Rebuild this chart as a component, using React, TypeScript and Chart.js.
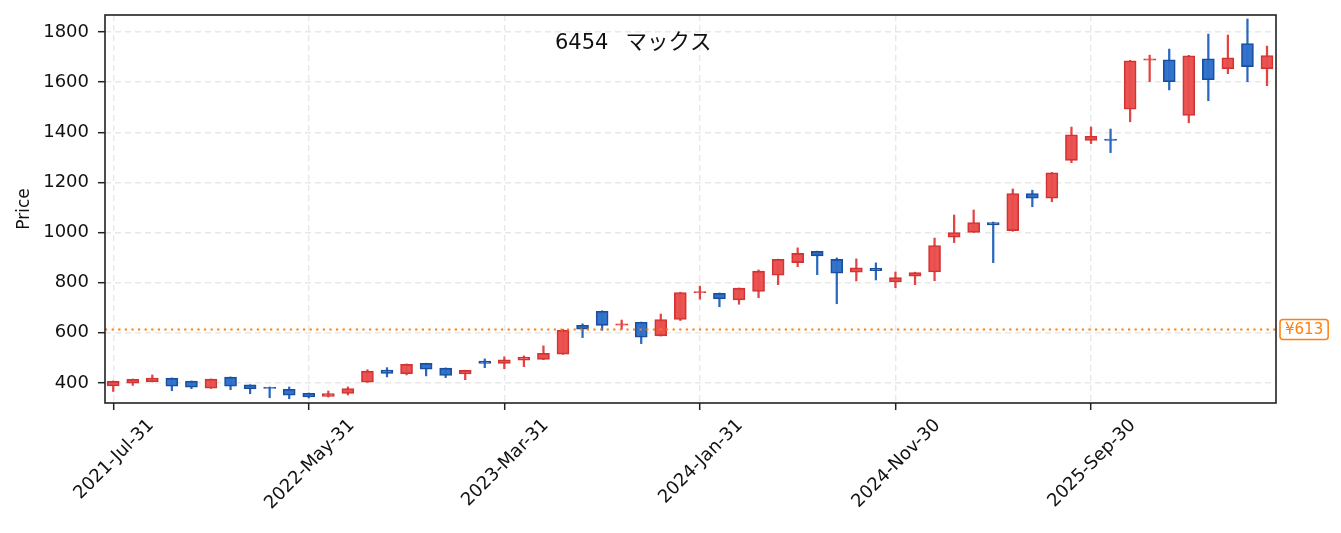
import React, { useEffect, useRef } from 'react';
import { Chart, registerables } from 'chart.js';

Chart.register(...registerables);

const TITLE_CODE = '6454';
const TITLE_NAME = 'マックス';
const Y_LABEL = 'Price';
const REF_PRICE = 613;

const dates = [
  '2021-Jul-31', '2021-Aug-31', '2021-Sep-30', '2021-Oct-31', '2021-Nov-30', '2021-Dec-31',
  '2022-Jan-31', '2022-Feb-28', '2022-Mar-31', '2022-Apr-30', '2022-May-31', '2022-Jun-30',
  '2022-Jul-31', '2022-Aug-31', '2022-Sep-30', '2022-Oct-31', '2022-Nov-30', '2022-Dec-31',
  '2023-Jan-31', '2023-Feb-28', '2023-Mar-31', '2023-Apr-30', '2023-May-31', '2023-Jun-30',
  '2023-Jul-31', '2023-Aug-31', '2023-Sep-30', '2023-Oct-31', '2023-Nov-30', '2023-Dec-31',
  '2024-Jan-31', '2024-Feb-29', '2024-Mar-31', '2024-Apr-30', '2024-May-31', '2024-Jun-30',
  '2024-Jul-31', '2024-Aug-31', '2024-Sep-30', '2024-Oct-31', '2024-Nov-30', '2024-Dec-31',
  '2025-Jan-31', '2025-Feb-28', '2025-Mar-31', '2025-Apr-30', '2025-May-31', '2025-Jun-30',
  '2025-Jul-31', '2025-Aug-31', '2025-Sep-30', '2025-Oct-31', '2025-Nov-30', '2025-Dec-31',
  '2026-Jan-31', '2026-Feb-28', '2026-Mar-31', '2026-Apr-30', '2026-May-31', '2026-Jun-30',
];

const opens = [
  388, 399, 405, 419, 407, 379, 423, 392, 383, 375,
  359, 346, 358, 403, 451, 437, 478, 459, 436, 487,
  478, 491, 494, 515, 630, 686, 631, 642, 588, 653,
  760, 758, 731, 765, 830, 880, 925, 893, 842, 857,
  803, 826, 843, 982, 1001, 1040, 1008, 1156, 1137, 1288,
  1368, 1373, 1492, 1688, 1689, 1467, 1693, 1653, 1754, 1653,
];
const highs = [
  408, 416, 432, 420, 408, 416, 424, 393, 384, 384,
  360, 368, 384, 453, 461, 476, 479, 460, 451, 496,
  504, 508, 548, 614, 636, 688, 651, 643, 675, 762,
  786, 759, 779, 851, 894, 939, 926, 899, 895, 879,
  843, 842, 978, 1070, 1090, 1042, 1174, 1169, 1240, 1421,
  1421, 1413, 1687, 1708, 1732, 1707, 1792, 1788, 1852, 1744,
];
const lows = [
  366, 390, 404, 369, 377, 378, 373, 357, 341, 337,
  340, 344, 352, 402, 424, 432, 428, 421, 413, 461,
  457, 465, 493, 514, 581, 610, 614, 557, 587, 649,
  734, 704, 714, 740, 792, 864, 832, 716, 807, 811,
  780, 792, 808, 960, 1000, 880, 1005, 1103, 1123, 1279,
  1355, 1319, 1442, 1602, 1569, 1438, 1526, 1634, 1602, 1586,
];
const closes = [
  406, 414, 419, 387, 383, 415, 387, 376, 378, 351,
  344, 358, 378, 447, 438, 474, 455, 430, 450, 478,
  492, 503, 518, 610, 615, 630, 636, 583, 653, 761,
  765, 735, 778, 846, 893, 917, 907, 838, 859, 848,
  820, 840, 948, 1000, 1040, 1030, 1156, 1137, 1238, 1390,
  1384, 1368, 1685, 1693, 1602, 1705, 1610, 1697, 1662, 1706,
];

const yTicks = [400, 600, 800, 1000, 1200, 1400, 1600, 1800];
const xTickIndex = [0, 10, 20, 30, 40, 50];

const FONT = '"DejaVu Sans", "Noto Sans CJK JP", sans-serif';
const CJK = '"Noto Sans CJK JP", sans-serif';

export default function App() {
  const ref = useRef<HTMLCanvasElement | null>(null);

  useEffect(() => {
    if (!ref.current) return;
    const up = closes.map((c, i) => c >= opens[i]);
    const bodyFill = up.map((u) => (u ? 'rgba(233,78,76,0.97)' : 'rgba(46,112,202,0.97)'));
    const bodyEdge = up.map((u) => (u ? '#d23434' : '#1a4f9e'));
    const wickColor = up.map((u) => (u ? '#e24444' : '#2a68c0'));

    const decor = {
      id: 'decor',
      afterDatasetsDraw(chart: any) {
        const { ctx, chartArea: a, scales } = chart;
        const yp = scales.y.getPixelForValue(REF_PRICE);
        ctx.save();
        ctx.strokeStyle = '#ff7f0e';
        ctx.lineWidth = 2;
        ctx.setLineDash([2.2, 4.4]);
        ctx.beginPath();
        ctx.moveTo(a.left, yp);
        ctx.lineTo(a.right, yp);
        ctx.stroke();
        ctx.restore();
      },
      afterDraw(chart: any) {
        const { ctx, chartArea: a, scales } = chart;
        ctx.save();
        // frame
        ctx.strokeStyle = '#222';
        ctx.lineWidth = 1.6;
        ctx.setLineDash([]);
        ctx.strokeRect(a.left, a.top, a.right - a.left, a.bottom - a.top);

        // title
        ctx.fillStyle = '#111';
        ctx.textAlign = 'left';
        ctx.textBaseline = 'alphabetic';
        ctx.font = `21px ${FONT}`;
        ctx.fillText(TITLE_CODE, 555, 48.5);
        ctx.font = `21.5px ${CJK}`;
        ctx.fillText(TITLE_NAME, 625.5, 49);

        // y label
        ctx.save();
        ctx.translate(25, (a.top + a.bottom) / 2);
        ctx.rotate(-Math.PI / 2);
        ctx.font = `17px ${FONT}`;
        ctx.textAlign = 'center';
        ctx.textBaseline = 'middle';
        ctx.fillText(Y_LABEL, 0, 0);
        ctx.restore();

        // x labels
        ctx.font = `18px ${FONT}`;
        ctx.fillStyle = '#111';
        xTickIndex.forEach((idx) => {
          const px = scales.x.getPixelForValue(idx);
          const txt = dates[idx];
          const L = ctx.measureText(txt).width;
          const h = 13;
          const half = ((L + h) * Math.SQRT1_2) / 2;
          ctx.save();
          ctx.translate(px + 1, a.bottom + 15 + half);
          ctx.rotate(-Math.PI / 4);
          ctx.textAlign = 'center';
          ctx.textBaseline = 'middle';
          ctx.fillText(txt, 0, 0);
          ctx.restore();
        });

        // ref label
        const yp = scales.y.getPixelForValue(REF_PRICE);
        const lbl = '¥' + REF_PRICE;
        ctx.font = `15px ${FONT}`;
        const tw = ctx.measureText(lbl).width;
        const bx = a.right + 4;
        const bw = tw + 10;
        const bh = 20;
        ctx.beginPath();
        ctx.roundRect(bx, yp - bh / 2, bw, bh, 3);
        ctx.fillStyle = '#fff';
        ctx.fill();
        ctx.strokeStyle = '#ff7f0e';
        ctx.lineWidth = 1.5;
        ctx.stroke();
        ctx.fillStyle = '#ff7f0e';
        ctx.textAlign = 'center';
        ctx.textBaseline = 'middle';
        ctx.fillText(lbl, bx + bw / 2, yp + 0.5);
        ctx.restore();
      },
    };

    const gridOpts = { color: '#e8e8e8', lineWidth: 1.4, tickLength: 7, tickColor: '#222', tickWidth: 1.5, tickBorderDash: [], offset: false };

    const chart = new Chart(ref.current, {
      type: 'bar',
      data: {
        datasets: [
          {
            label: 'wick',
            data: dates.map((_, i) => ({ x: i, y: [lows[i], highs[i]] })) as any,
            backgroundColor: wickColor,
            borderWidth: 0,
            barThickness: 1.6,
            grouped: false,
            order: 2,
          } as any,
          {
            label: 'body',
            data: dates.map((_, i) => ({ x: i, y: [opens[i], closes[i]] })) as any,
            backgroundColor: bodyFill,
            borderColor: bodyEdge,
            borderWidth: 1.6,
            borderSkipped: false,
            barThickness: 12,
            grouped: false,
            order: 1,
          } as any,
        ],
      },
      options: {
        animation: false,
        responsive: false,
        maintainAspectRatio: false,
        devicePixelRatio: 1,
        layout: { padding: { top: 15, right: 65, left: 0, bottom: 0 } },
        plugins: { legend: { display: false }, tooltip: { enabled: false }, title: { display: false } },
        scales: {
          x: {
            type: 'linear',
            offset: false,
            min: -0.42,
            max: 59.46,
            afterBuildTicks: (s: any) => {
              s.ticks = xTickIndex.map((v) => ({ value: v }));
            },
            afterFit: (s: any) => {
              s.height = 130;
              s.paddingLeft = 0;
              s.paddingRight = 0;
            },
            ticks: { display: false },
            grid: gridOpts,
            border: { display: false, dash: [6, 4] },
          },
          y: {
            type: 'linear',
            min: 320,
            max: 1868,
            afterBuildTicks: (s: any) => {
              s.ticks = yTicks.map((v) => ({ value: v }));
            },
            afterFit: (s: any) => {
              s.width = 105;
              s.paddingTop = 0;
              s.paddingBottom = 0;
            },
            ticks: {
              font: { family: FONT, size: 18 },
              color: '#111',
              padding: 9,
              callback: (v: any) => String(v),
            },
            grid: gridOpts,
            border: { display: false, dash: [6, 4] },
          },
        },
      } as any,
      plugins: [decor],
    });
    return () => chart.destroy();
  }, []);

  return (
    <div style={{ position: 'absolute', left: 0, top: 0, width: 1341, height: 533, background: '#fff' }}>
      <canvas ref={ref} width={1341} height={533} style={{ width: 1341, height: 533 }} />
    </div>
  );
}
